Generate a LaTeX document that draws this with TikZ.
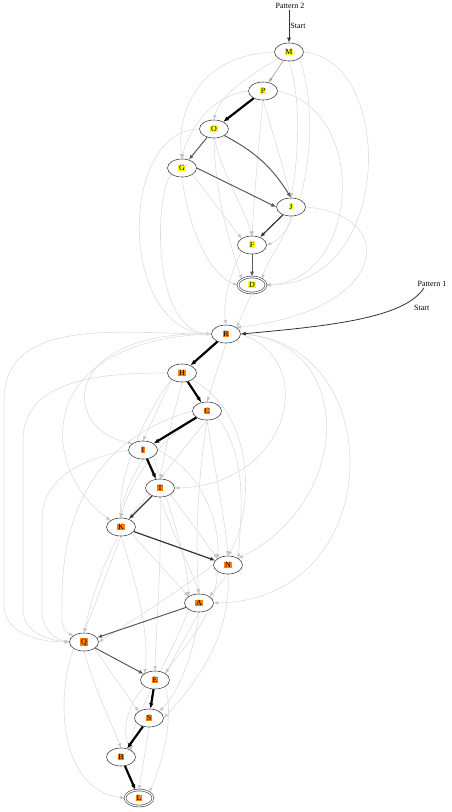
\documentclass[tikz,border=0pt]{standalone}
\usepackage{fontspec}
\setmainfont{Liberation Serif}
\usetikzlibrary{
  arrows.meta,
  shapes.geometric,
  backgrounds
}
\definecolor{TagYellow}{RGB}{255,255,0}
\definecolor{TagOrange}{RGB}{255,128,0}
\definecolor{FaintGray}{RGB}{221,221,221}
\definecolor{TipGray}{RGB}{196,196,196}
\definecolor{SoftGray}{RGB}{165,165,165}
\definecolor{MidGray}{RGB}{90,90,90}
\newcommand{\ytag}[1]{{\setlength{\fboxsep}{0.8pt}\colorbox{TagYellow}{#1}}}
\newcommand{\otag}[1]{{\setlength{\fboxsep}{0.8pt}\colorbox{TagOrange}{#1}}}
\tikzset{
  statenode/.style={ellipse,draw=black!75,fill=white,line width=0.6pt,minimum width=29pt,minimum height=18pt,inner sep=0pt,font=\footnotesize},
  finalnode/.style={statenode,double=white,double distance=1.2pt,minimum width=28pt,minimum height=16pt},
  titletext/.style={font=\footnotesize,inner sep=1pt},
  startline/.style={-{Latex[length=5pt,width=4pt]},draw=black!80,line width=0.8pt},
  faintline/.style={-{Latex[length=4.5pt,width=3.6pt,color=TipGray]},draw=FaintGray,line width=0.6pt},
  softline/.style={-{Latex[length=4.5pt,width=3.6pt]},draw=SoftGray,line width=0.7pt},
  midline/.style={-{Latex[length=5pt,width=4pt]},draw=MidGray,line width=1pt},
  darkline/.style={-{Latex[length=5pt,width=4pt]},draw=black!80,line width=1.2pt},
  heavyline/.style={-{Latex[length=5.5pt,width=4.5pt]},draw=black,line width=2.2pt}
}

\begin{document}
\begin{tikzpicture}[x=1pt,y=-1pt]
\useasboundingbox (0,0) rectangle (451,812);

% pattern 2
\node[titletext] (pat2) at (290,6) {Pattern 2};
\node[statenode] (M) at (289,52) {\ytag{M}};
\node[statenode] (P) at (263,91) {\ytag{P}};
\node[statenode] (O) at (214,129) {\ytag{O}};
\node[statenode] (G) at (182,168) {\ytag{G}};
\node[statenode] (J) at (291,207) {\ytag{J}};
\node[statenode] (F) at (252,245) {\ytag{F}};
\node[finalnode] (D) at (252,285) {\ytag{D}};

% pattern 1
\node[titletext] (pat1) at (432,284) {Pattern 1};
\node[statenode] (R) at (226,334) {\otag{R}};
\node[statenode] (H) at (182,373) {\otag{H}};
\node[statenode] (C) at (207,411) {\otag{C}};
\node[statenode] (I) at (143,450) {\otag{I}};
\node[statenode] (T) at (160,488) {\otag{T}};
\node[statenode] (K) at (121,527) {\otag{K}};
\node[statenode] (N) at (228,565) {\otag{N}};
\node[statenode] (A) at (199,603) {\otag{A}};
\node[statenode] (Q) at (84,642) {\otag{Q}};
\node[statenode] (E) at (155,680) {\otag{E}};
\node[statenode] (S) at (149,718) {\otag{S}};
\node[statenode] (B) at (121,757) {\otag{B}};
\node[finalnode] (L) at (139,798) {\otag{L}};

% faint edges
\begin{scope}[on background layer]
\draw[faintline] (M.south west) .. controls (240,80) and (218,100) .. (O.north);
\draw[faintline] (M.west) .. controls (200,55) and (176,110) .. (G.north);
\draw[faintline] (P.west) .. controls (212,95) and (188,130) .. (G.north);
\draw[faintline] (M.south) .. controls (302,100) and (298,160) .. (J.north);
\draw[faintline] (P.south) .. controls (272,130) and (284,170) .. (J.north);
\draw[faintline] (M.south east) .. controls (322,120) and (305,230) .. (F.east);
\draw[faintline] (M.east) .. controls (395,60) and (395,285) .. (D.east);
\draw[faintline] (P.east) .. controls (370,110) and (360,280) .. (D.east);
\draw[faintline] (P.south) .. controls (258,150) and (254,200) .. (F.north);
\draw[faintline] (O.south) .. controls (225,180) and (245,210) .. (F.north);
\draw[faintline] (O.south) .. controls (215,200) and (232,250) .. (D.north west);
\draw[faintline] (G.south east) -- (F.north west);
\draw[faintline] (G.south) .. controls (190,240) and (215,278) .. (D.west);
\draw[faintline] (J.south) .. controls (285,240) and (266,262) .. (D.north east);
\draw[faintline] (G.south west) .. controls (155,190) and (150,330) .. (R.west);
\draw[faintline] (O.west) .. controls (118,130) and (118,330) .. (R.west);
\draw[faintline] (F.south west) .. controls (232,270) and (222,300) .. (R.north);
\draw[faintline] (D.south) -- (R.north east);
\draw[faintline] (J.east) .. controls (400,215) and (390,310) .. (R.north east);

\draw[faintline] (R.south) -- (C.north);
\draw[faintline] (R.west) .. controls (60,330) and (60,430) .. (I.north west);
\draw[faintline] (R.west) to[out=180,in=90] (4,400) -- (4,605) to[out=-90,in=180] (Q.west);
\draw[faintline] (H.west) to[out=180,in=90] (23,440) -- (23,610) to[out=-90,in=175] (Q.west);
\draw[faintline] (I.west) to[out=190,in=90] (42,520) -- (42,612) to[out=-90,in=170] (Q.west);
\draw[faintline] (C.west) .. controls (90,440) and (62,520) .. (62,600) to[out=-90,in=160] (Q.north west);
\draw[faintline] (R.west) .. controls (30,340) and (40,470) .. (K.north west);
\draw[faintline] (H.south west) -- (I.north);
\draw[faintline] (H.south) .. controls (172,420) and (165,450) .. (T.north);
\draw[faintline] (H.south west) .. controls (140,420) and (118,480) .. (K.north);
\draw[faintline] (H.south east) .. controls (262,420) and (250,520) .. (N.north);
\draw[faintline] (C.south) .. controls (190,440) and (175,460) .. (T.north);
\draw[faintline] (R.east) .. controls (320,360) and (290,485) .. (T.east);
\draw[faintline] (C.south west) .. controls (160,440) and (130,480) .. (K.north);
\draw[faintline] (C.south) .. controls (215,470) and (225,520) .. (N.north);
\draw[faintline] (C.south east) .. controls (250,460) and (240,520) .. (N.north east);
\draw[faintline] (C.south) .. controls (195,500) and (196,560) .. (A.north);
\draw[faintline] (I.south) .. controls (130,480) and (122,500) .. (K.north);
\draw[faintline] (I.east) .. controls (200,470) and (220,520) .. (N.north west);
\draw[faintline] (I.south east) .. controls (170,510) and (188,560) .. (A.north west);
\draw[faintline] (T.south east) -- (N.north west);
\draw[faintline] (T.south) .. controls (175,540) and (192,570) .. (A.north);
\draw[faintline] (T.south west) .. controls (120,520) and (95,580) .. (Q.north);
\draw[faintline] (T.south) .. controls (162,560) and (156,630) .. (E.north);
\draw[faintline] (K.south east) -- (A.north west);
\draw[faintline] (K.south) -- (Q.north);
\draw[faintline] (K.south) .. controls (135,580) and (150,630) .. (E.north west);
\draw[faintline] (N.south) -- (A.north east);
\draw[faintline] (N.west) .. controls (180,590) and (130,622) .. (Q.east);
\draw[faintline] (N.south west) .. controls (215,620) and (180,650) .. (E.north east);
\draw[faintline] (N.south) .. controls (232,640) and (190,690) .. (S.east);
\draw[faintline] (R.east) .. controls (355,340) and (355,500) .. (N.north east);
\draw[faintline] (R.east) .. controls (390,340) and (390,600) .. (A.east);
\draw[faintline] (A.south) -- (E.north east);
\draw[faintline] (A.south) .. controls (195,650) and (180,690) .. (S.north east);
\draw[faintline] (A.south west) .. controls (170,660) and (130,720) .. (B.north east);
\draw[faintline] (Q.south east) -- (S.north west);
\draw[faintline] (Q.south) .. controls (95,690) and (110,720) .. (B.north);
\draw[faintline] (Q.south west) .. controls (55,700) and (60,790) .. (L.west);
\draw[faintline] (E.south west) .. controls (130,700) and (120,730) .. (B.north east);
\draw[faintline] (E.south east) .. controls (175,720) and (160,770) .. (L.north east);
\draw[faintline] (S.south) -- (L.north);
\end{scope}

% start arrows
\draw[startline] (pat2.south -| M) -- node[right,titletext]{Start} (M);
\draw[startline] ([xshift=-8pt]pat1.south) .. controls (405,318) and (330,326) .. node[pos=0.15,anchor=north west,inner sep=2pt,yshift=-3pt,font=\footnotesize]{Start} (R.east);

% main edges
\draw[softline] (M) -- (P);
\draw[heavyline] (P) -- (O);
\draw[midline] (O) -- (G);
\draw[midline] (O.south east) to[bend left=15] (J.north);
\draw[midline] (G.east) -- (J.west);
\draw[darkline] (J) -- (F);
\draw[midline] (F) -- (D);

\draw[heavyline] (R) -- (H);
\draw[heavyline] (H) -- (C);
\draw[heavyline] (C) -- (I);
\draw[heavyline] (I) -- (T);
\draw[darkline] (T) -- (K);
\draw[darkline] (K) -- (N);
\draw[midline] (A) -- (Q);
\draw[midline] (Q) -- (E);
\draw[heavyline] (E) -- (S);
\draw[heavyline] (S) -- (B);
\draw[heavyline] (B) -- (L);
\end{tikzpicture}
\end{document}
